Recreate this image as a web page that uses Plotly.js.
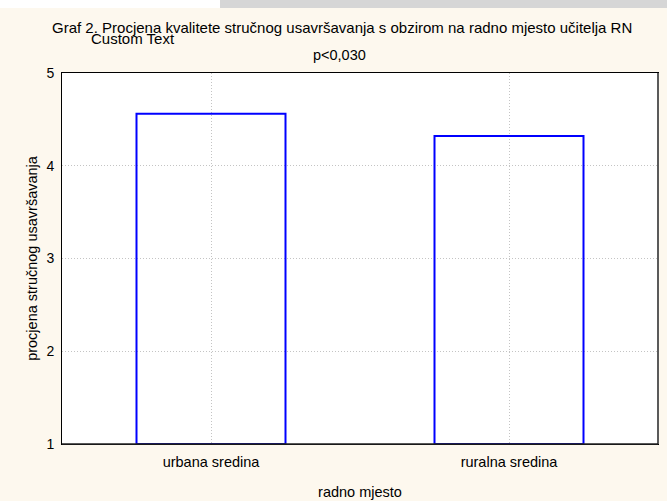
<!DOCTYPE html>
<html>
<head>
<meta charset="utf-8">
<script src="https://cdn.plot.ly/plotly-3.0.1.min.js"></script>
<style>
html,body{margin:0;padding:0;background:#fdf8ee;}
#wrap{position:relative;width:667px;height:501px;}
#chart{position:absolute;left:0;top:0;width:667px;height:501px;}
#stripW{position:absolute;left:0;top:0;width:220px;height:8px;background:#ffffff;z-index:5;}
#stripG{position:absolute;left:220px;top:0;width:447px;height:8px;background:#d6d6d6;z-index:5;}
</style>
</head>
<body>
<div id="wrap">
<div id="chart"></div>
<div id="stripW"></div>
<div id="stripG"></div>
</div>
<script>
const categories = ["urbana sredina", "ruralna sredina"];
const means = [4.56, 4.32];
const yTicks = [1, 2, 3, 4, 5];
const axisBase = 1;

const trace = {
  type: "bar",
  x: categories,
  y: means.map(v => v - axisBase),
  base: means.map(() => axisBase),
  width: 0.5,
  marker: {color: "rgba(255,255,255,0)", line: {color: "#0000ff", width: 2}},
  hoverinfo: "none"
};

const fnt = {family: "Liberation Sans, Arial, sans-serif", color: "#000000"};
const f = s => Object.assign({size: s}, fnt);

const layout = {
  width: 667, height: 501,
  paper_bgcolor: "#fdf8ee",
  plot_bgcolor: "#ffffff",
  margin: {l: 62, r: 9, t: 73, b: 57},
  showlegend: false,
  title: {
    text: "Graf 2. Procjena kvalitete stručnog usavršavanja s obzirom na radno mjesto učitelja RN",
    font: f(15),
    x: 0.513, xanchor: "center", xref: "container",
    y: 1 - 28/501, yanchor: "middle", yref: "container"
  },
  xaxis: {
    type: "category",
    range: [-0.5, 1.5],
    showgrid: true, gridcolor: "#c4c4c4", griddash: "1px,2px", gridwidth: 1,
    showline: true, linecolor: "#000000", linewidth: 1, mirror: true,
    ticks: "", tickfont: f(14.5), ticklabelstandoff: 5,
    title: {text: "radno mjesto", font: f(14.5), standoff: 17},
    fixedrange: true
  },
  yaxis: {
    range: [1, 5],
    tickvals: yTicks,
    ticktext: yTicks.map(String),
    showgrid: true, gridcolor: "#c4c4c4", griddash: "1px,2px", gridwidth: 1,
    zeroline: false,
    showline: true, linecolor: "#000000", linewidth: 1, mirror: true,
    ticks: "", ticklabelstandoff: 4,
    tickfont: f(14),
    title: {text: "procjena stručnog usavršavanja", font: f(14.5), standoff: 5},
    fixedrange: true
  },
  shapes: [
    {type: "line", xref: "paper", yref: "paper", x0: 1, x1: 1, y0: 0, y1: 1,
     line: {color: "#5a5a5a", width: 2}},
    {type: "line", xref: "paper", yref: "paper", x0: 0, x1: 1, y0: 0, y1: 0,
     line: {color: "#222222", width: 1.5}}
  ],
  annotations: [
    {text: "Custom Text", xref: "paper", yref: "paper", x: (133-62)/596, y: (444-39)/371,
     showarrow: false, xanchor: "center", yanchor: "middle", font: f(15)},
    {text: "p<0,030", xref: "paper", yref: "paper", x: (339-62)/596, y: (444-55)/371,
     showarrow: false, xanchor: "center", yanchor: "middle", font: f(14.5)}
  ]
};

Plotly.newPlot("chart", [trace], layout, {displayModeBar: false, staticPlot: true});
</script>
</body>
</html>
